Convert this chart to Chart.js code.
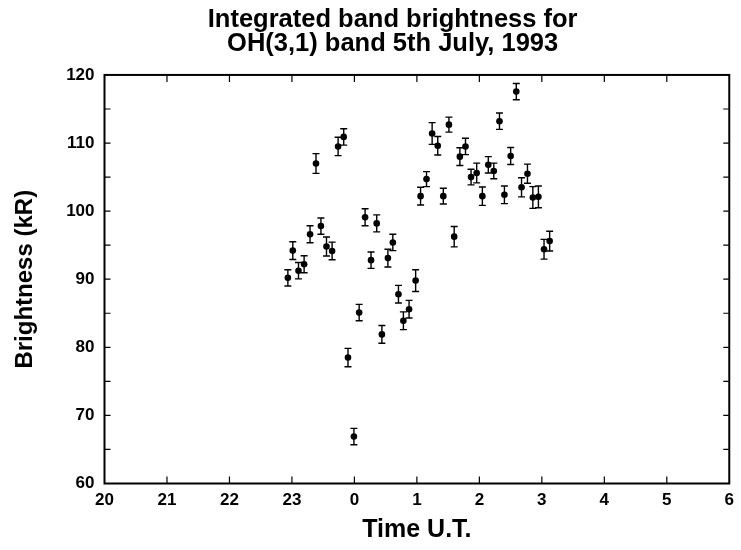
<!DOCTYPE html>
<html><head><meta charset="utf-8">
<script src="https://cdn.jsdelivr.net/npm/chart.js@4/dist/chart.umd.min.js"></script>
<style>html,body{margin:0;padding:0;background:#fff}</style>
</head><body>
<canvas id="c" width="741" height="550"></canvas>
<script>
// Time in hours relative to 0 UT (negative = before midnight, 5th July 1993)
const timeHours = [-1.065,-0.986,-0.895,-0.805,-0.71,-0.615,-0.536,-0.447,-0.357,-0.261,-0.171,
  -0.103,-0.008,0.076,0.171,0.266,0.357,0.44,0.536,0.615,0.705,0.784,0.875,0.98,
  1.059,1.154,1.244,1.334,1.423,1.513,1.597,1.688,1.778,1.867,1.957,2.048,2.143,2.231,
  2.322,2.401,2.501,2.591,2.675,2.77,2.856,2.945,3.035,3.125];
const brightness = [90.2,94.2,91.25,92.2,96.6,107.0,97.8,94.8,94.15,109.5,110.9,
  78.5,66.9,85.1,99.1,92.8,98.2,81.9,93.1,95.4,87.8,83.9,85.6,89.8,
  102.2,104.7,111.4,109.6,102.2,112.7,96.25,108.0,109.5,105.0,105.6,102.2,106.8,105.9,
  113.2,102.4,108.1,117.55,103.5,105.5,102.0,102.1,94.4,95.6];
const errorKR = [1.2,1.3,1.2,1.25,1.25,1.45,1.2,1.4,1.3,1.35,1.2,
  1.35,1.2,1.2,1.25,1.2,1.25,1.3,1.3,1.2,1.3,1.3,1.3,1.6,
  1.3,1.1,1.6,1.35,1.15,1.1,1.5,1.3,1.2,1.15,1.45,1.35,1.2,1.15,
  1.2,1.3,1.25,1.2,1.4,1.4,1.6,1.6,1.45,1.45];
const xTickLabels = ['20','21','22','23','0','1','2','3','4','5','6'];
const xMin = -4, xMax = 6;
const yMin = 60, yMax = 120;
const titleLines = ['Integrated band brightness for', 'OH(3,1) band 5th July, 1993'];

const points = timeHours.map((t, i) => ({x: t, y: brightness[i]}));

const frameAndErrors = {
  id: 'frameAndErrors',
  beforeDatasetsDraw(chart) {
    const ctx = chart.ctx, ys = chart.scales.y;
    const meta = chart.getDatasetMeta(0);
    ctx.save();
    ctx.strokeStyle = '#000';
    ctx.lineWidth = 1.4;
    meta.data.forEach((el, i) => {
      const x = el.x;
      const yt = ys.getPixelForValue(brightness[i] + errorKR[i]);
      const yb = ys.getPixelForValue(brightness[i] - errorKR[i]);
      ctx.beginPath();
      ctx.moveTo(x, yt); ctx.lineTo(x, yb);
      ctx.moveTo(x - 3.5, yt); ctx.lineTo(x + 3.5, yt);
      ctx.moveTo(x - 3.5, yb); ctx.lineTo(x + 3.5, yb);
      ctx.stroke();
    });
    ctx.restore();
  },
  afterDraw(chart) {
    const ctx = chart.ctx, a = chart.chartArea;
    const xs = chart.scales.x, ys = chart.scales.y;
    ctx.save();
    ctx.strokeStyle = '#000';
    ctx.lineWidth = 2;
    ctx.strokeRect(a.left, a.top, a.right - a.left, a.bottom - a.top);
    ctx.lineWidth = 1.2;
    ctx.beginPath();
    for (let v = xMin + 1; v < xMax; v++) {
      const px = xs.getPixelForValue(v);
      ctx.moveTo(px, a.bottom); ctx.lineTo(px, a.bottom - 7);
      ctx.moveTo(px, a.top); ctx.lineTo(px, a.top + 7);
    }
    for (let v = yMin + 5; v < yMax; v += 5) {
      const py = ys.getPixelForValue(v);
      ctx.moveTo(a.left, py); ctx.lineTo(a.left + 6, py);
      ctx.moveTo(a.right, py); ctx.lineTo(a.right - 6, py);
    }
    ctx.stroke();
    ctx.restore();
  }
};

new Chart(document.getElementById('c'), {
  type: 'scatter',
  data: {
    datasets: [{
      data: points,
      pointRadius: 3.3,
      pointHoverRadius: 3.3,
      pointBackgroundColor: '#000',
      pointBorderColor: '#000',
      pointBorderWidth: 0,
      showLine: false
    }]
  },
  options: {
    responsive: false,
    animation: false,
    events: [],
    layout: {padding: {left: 50, right: 5.7, top: 0, bottom: 0}},
    plugins: {
      legend: {display: false},
      tooltip: {enabled: false},
      title: {
        display: true,
        text: titleLines,
        color: '#000',
        font: {family: "'Liberation Sans', Arial, sans-serif", size: 25.5, weight: 'bold', lineHeight: 0.94},
        padding: {top: 8, bottom: 19}
      }
    },
    scales: {
      x: {
        type: 'linear',
        min: xMin, max: xMax,
        afterFit(s) { s.height = 66.5; },
        grid: {display: false, drawTicks: false},
        border: {display: false},
        ticks: {
          stepSize: 1,
          autoSkip: false,
          maxRotation: 0,
          padding: 7,
          color: '#000',
          font: {family: "'Liberation Sans', Arial, sans-serif", size: 17, weight: 'bold'},
          callback: (v) => xTickLabels[Math.round(v - xMin)]
        },
        title: {
          display: true,
          text: 'Time U.T.',
          color: '#000',
          font: {family: "'Liberation Sans', Arial, sans-serif", size: 25, weight: 'bold'},
          padding: {top: 0, bottom: 4.5}
        }
      },
      y: {
        type: 'linear',
        min: yMin, max: yMax,
        afterFit(s) { s.width = 54.5; },
        grid: {display: false, drawTicks: false},
        border: {display: false},
        ticks: {
          stepSize: 10,
          padding: 10,
          color: '#000',
          font: {family: "'Liberation Sans', Arial, sans-serif", size: 17, weight: 'bold'}
        },
        title: {
          display: true,
          text: 'Brightness (kR)',
          color: '#000',
          font: {family: "'Liberation Sans', Arial, sans-serif", size: 24, weight: 'bold'},
          padding: {top: -39, bottom: 0}
        }
      }
    }
  },
  plugins: [frameAndErrors]
});
</script>
</body></html>
